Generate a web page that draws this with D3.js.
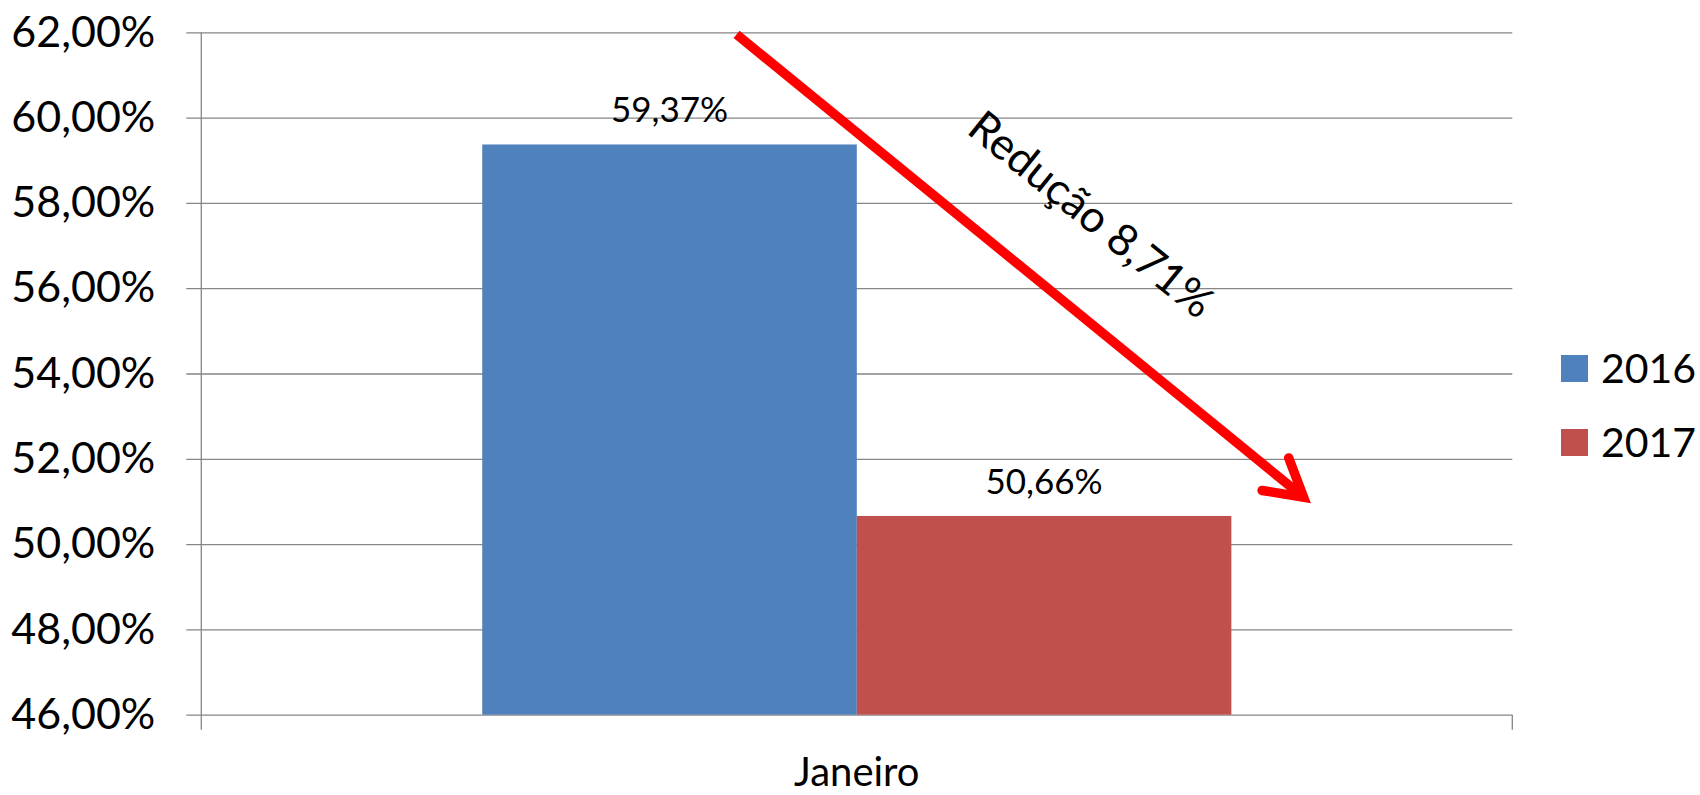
<!DOCTYPE html>
<html>
<head>
<meta charset="utf-8">
<script src="https://cdn.jsdelivr.net/npm/d3@7"></script>
<style>
  html, body { margin: 0; padding: 0; background: #fff; }
  svg { display: block; font-family: Lato, "Open Sans", sans-serif; }
</style>
</head>
<body>
<svg id="chart" width="1700" height="795"></svg>
<script>
// ---- data ----
const categories = ["Janeiro"];
const seriesNames = ["2016", "2017"];
const values2016 = [59.37];
const values2017 = [50.66];
const seriesColors = ["#4F81BD", "#C0504D"];
const yTicks = [46, 48, 50, 52, 54, 56, 58, 60, 62];
const annotationText = "Redução 8,71%";
// arrow annotation in data space: [fraction of plot width, value %]
const arrowStart = [0.4083, 61.95];
const arrowTip = [0.8408, 51.10];
const labelAnchor = [0.6715, 57.45];

// ---- layout ----
const svg = d3.select("#chart");
const plot = { left: 201.3, right: 1512.3, top: 32.3, bottom: 714.7 };
const gridColor = "#868686";

const y = d3.scaleLinear().domain([46, 62]).range([plot.bottom, plot.top]);
const x0 = d3.scaleBand().domain(categories).range([plot.left, plot.right])
  .paddingInner(0).paddingOuter(0.375);
const x1 = d3.scaleBand().domain(seriesNames).range([0, x0.bandwidth()]).padding(0);
const fx = d3.scaleLinear().domain([0, 1]).range([plot.left, plot.right]);

const locale = d3.formatLocale({ decimal: ",", thousands: ".", grouping: [3], currency: ["R$", ""] });
const fmt = v => locale.format(".2f")(v) + "%";

// gridlines + y axis (Excel style)
const yAxis = d3.axisLeft(y).tickValues(yTicks).tickFormat(fmt)
  .tickSize(-(plot.right - plot.left)).tickPadding(0);
const gy = svg.append("g").attr("transform", `translate(${plot.left},0)`).call(yAxis);
gy.select(".domain").remove();
gy.selectAll(".tick line").attr("stroke", gridColor).attr("stroke-width", 1.3)
  .attr("x1", -15).attr("x2", plot.right - plot.left);
gy.selectAll(".tick text")
  .attr("x", -46).attr("dy", "0.32em")
  .attr("font-size", 43).attr("fill", "#000")
  .attr("font-family", "Lato, sans-serif");

// vertical axis line
svg.append("line")
  .attr("x1", plot.left).attr("x2", plot.left)
  .attr("y1", plot.top).attr("y2", plot.bottom + 15)
  .attr("stroke", gridColor).attr("stroke-width", 1.3);

// x-axis category boundary tick (right end)
svg.append("line")
  .attr("x1", plot.right).attr("x2", plot.right)
  .attr("y1", plot.bottom).attr("y2", plot.bottom + 15)
  .attr("stroke", gridColor).attr("stroke-width", 1.3);

// x-axis label
const xAxis = d3.axisBottom(x0).tickSize(0).tickPadding(0);
const gx = svg.append("g").attr("transform", `translate(0,${plot.bottom})`).call(xAxis);
gx.select(".domain").remove();
gx.selectAll(".tick text")
  .attr("y", 71).attr("dy", 0)
  .attr("font-size", 40).attr("fill", "#000")
  .attr("font-family", "Lato, sans-serif");

// bars
const rows = categories.map((c, i) => ({
  category: c,
  values: [ { key: seriesNames[0], v: values2016[i], color: seriesColors[0] },
            { key: seriesNames[1], v: values2017[i], color: seriesColors[1] } ]
}));

const groups = svg.append("g").selectAll("g").data(rows).join("g")
  .attr("transform", d => `translate(${x0(d.category)},0)`);

groups.selectAll("rect").data(d => d.values).join("rect")
  .attr("x", d => x1(d.key))
  .attr("width", x1.bandwidth())
  .attr("y", d => y(d.v))
  .attr("height", d => y(46) - y(d.v))
  .attr("fill", d => d.color);

groups.selectAll("text.lbl").data(d => d.values).join("text")
  .attr("class", "lbl")
  .attr("x", d => x1(d.key) + x1.bandwidth() / 2)
  .attr("y", d => y(d.v) - 22)
  .attr("text-anchor", "middle")
  .attr("font-size", 35)
  .attr("fill", "#000")
  .text(d => fmt(d.v));

// legend
const legend = svg.append("g").attr("transform", "translate(1561,355)");
const li = legend.selectAll("g").data(seriesNames).join("g")
  .attr("transform", (d, i) => `translate(0,${i * 74})`);
li.append("rect").attr("width", 27).attr("height", 27)
  .attr("fill", (d, i) => seriesColors[i]);
li.append("text").attr("x", 40).attr("y", 28)
  .attr("font-size", 41).attr("fill", "#000").text(d => d);

// arrow annotation
const sx = fx(arrowStart[0]), sy = y(arrowStart[1]);
const tx = fx(arrowTip[0]), ty = y(arrowTip[1]);
const ang = Math.atan2(ty - sy, tx - sx);
const half = 30 * Math.PI / 180, barb = 42;
const b1 = [tx - barb * Math.cos(ang - half), ty - barb * Math.sin(ang - half)];
const b2 = [tx - barb * Math.cos(ang + half), ty - barb * Math.sin(ang + half)];
const arrowG = svg.append("g");
arrowG.append("line")
  .attr("x1", sx).attr("y1", sy).attr("x2", tx).attr("y2", ty)
  .attr("stroke", "#FF0000").attr("stroke-width", 9.5).attr("stroke-linecap", "butt");
arrowG.append("path")
  .attr("d", d3.line()([b1, [tx, ty], b2]))
  .attr("fill", "none").attr("stroke", "#FF0000").attr("stroke-width", 9.5)
  .attr("stroke-linejoin", "miter").attr("stroke-miterlimit", 10)
  .attr("stroke-linecap", "round");

const lx = fx(labelAnchor[0]), ly = y(labelAnchor[1]);
svg.append("text")
  .attr("transform", `translate(${lx},${ly}) rotate(${ang * 180 / Math.PI - 0.3})`)
  .attr("text-anchor", "middle")
  .attr("font-size", 44)
  .attr("fill", "#000")
  .text(annotationText);
</script>
</body>
</html>
